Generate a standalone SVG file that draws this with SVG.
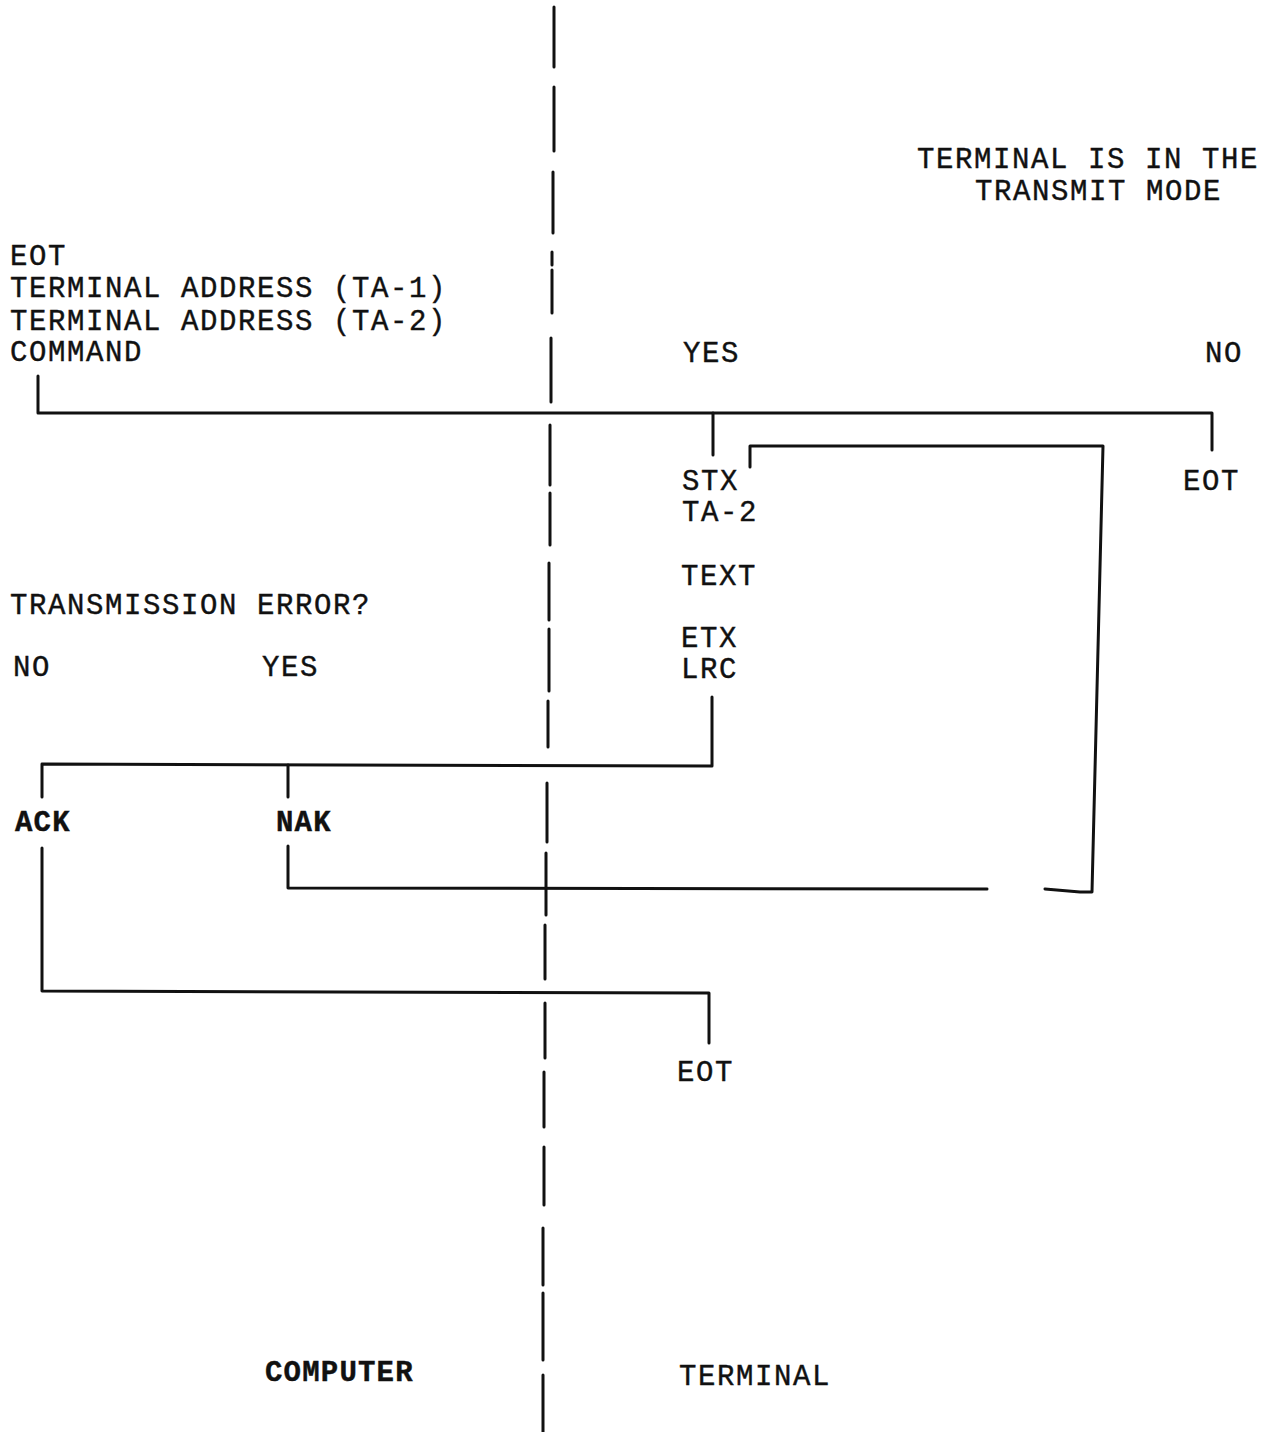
<svg xmlns="http://www.w3.org/2000/svg" width="1275" height="1432" viewBox="0 0 1275 1432">
<style>
text{font-family:"Liberation Mono","Courier New",monospace;font-size:29px;letter-spacing:1.6px;fill:#111;stroke:#111;stroke-width:0.4}
.b{font-weight:bold;letter-spacing:1.2px}
.ln{fill:none;stroke:#111;stroke-width:3;stroke-linecap:round;stroke-linejoin:round}
.dash{stroke:#111;stroke-width:3;stroke-linecap:round}
</style>
<rect width="1275" height="1432" fill="#fff"/>
<g id="divider">
<line class="dash" x1="554" y1="7" x2="554" y2="67"/>
<line class="dash" x1="554" y1="87" x2="554" y2="151"/>
<line class="dash" x1="553" y1="172" x2="553" y2="233"/>
<line class="dash" x1="552" y1="252" x2="552" y2="265"/>
<line class="dash" x1="552" y1="270" x2="552" y2="313"/>
<line class="dash" x1="551" y1="338" x2="551" y2="402"/>
<line class="dash" x1="550" y1="425" x2="550" y2="485"/>
<line class="dash" x1="550" y1="493" x2="550" y2="545"/>
<line class="dash" x1="549" y1="563" x2="549" y2="620"/>
<line class="dash" x1="549" y1="629" x2="549" y2="691"/>
<line class="dash" x1="548" y1="701" x2="548" y2="747"/>
<line class="dash" x1="547" y1="783" x2="547" y2="842"/>
<line class="dash" x1="546" y1="853" x2="546" y2="915"/>
<line class="dash" x1="545" y1="925" x2="545" y2="979"/>
<line class="dash" x1="545" y1="1003" x2="545" y2="1058"/>
<line class="dash" x1="544" y1="1072" x2="544" y2="1127"/>
<line class="dash" x1="544" y1="1147" x2="544" y2="1205"/>
<line class="dash" x1="543" y1="1228" x2="543" y2="1285"/>
<line class="dash" x1="543" y1="1293" x2="543" y2="1360"/>
<line class="dash" x1="543" y1="1375" x2="543" y2="1432"/>
</g>
<g id="connectors">
<polyline class="ln" points="38,376 38,413 1212,413 1212,450"/>
<line class="ln" x1="713" y1="413" x2="713" y2="455"/>
<polyline class="ln" points="750,467 750,446 1103,446 1092,892 1080,892 1045,889"/>
<polyline class="ln" points="288,846 288,888 987,889"/>
<polyline class="ln" points="712,697 712,766 42,764 42,797"/>
<line class="ln" x1="288" y1="765" x2="288" y2="797"/>
<polyline class="ln" points="42,848 42,991 709,993 709,1043"/>
</g>
<g id="terminal-mode"><text x="917" y="168">TERMINAL IS IN THE</text><text x="975" y="200">TRANSMIT MODE</text></g>
<g id="poll"><text x="10" y="265">EOT</text><text x="10" y="297">TERMINAL ADDRESS (TA-1)</text><text x="10" y="330">TERMINAL ADDRESS (TA-2)</text><text x="10" y="361">COMMAND</text></g>
<g id="yes1"><text x="683" y="362">YES</text></g>
<g id="no1"><text x="1205" y="362">NO</text></g>
<g id="message"><text x="682" y="490">STX</text><text x="682" y="521">TA-2</text><text x="681" y="585">TEXT</text><text x="681" y="647">ETX</text><text x="681" y="678">LRC</text></g>
<g id="eot-no"><text x="1183" y="490">EOT</text></g>
<g id="error-q"><text x="10" y="614">TRANSMISSION ERROR?</text></g>
<g id="no2"><text x="13" y="676">NO</text></g>
<g id="yes2"><text x="262" y="676">YES</text></g>
<g id="ack"><text class="b" x="15" y="831">ACK</text></g>
<g id="nak"><text class="b" x="276" y="831">NAK</text></g>
<g id="eot-end"><text x="677" y="1081">EOT</text></g>
<g id="computer"><text class="b" x="265" y="1381">COMPUTER</text></g>
<g id="terminal"><text x="679" y="1385">TERMINAL</text></g>
</svg>
